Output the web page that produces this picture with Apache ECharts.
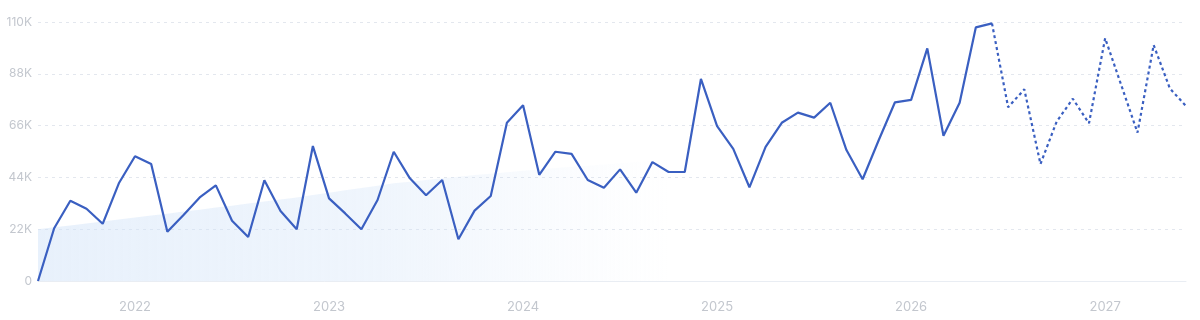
<!DOCTYPE html>
<html>
<head>
<meta charset="utf-8">
<script src="https://cdn.jsdelivr.net/npm/echarts@6/dist/echarts.min.js"></script>
<style>
html, body { margin: 0; padding: 0; background: #fff; }
#chart { width: 1200px; height: 320px; }
</style>
</head>
<body>
<div id="chart"></div>
<script>
// months Jul 2021 .. Jun 2027
var months = [];
for (var y = 2021; y <= 2027; y++) {
    for (var m = 1; m <= 12; m++) {
        if (y == 2021 && m < 7) continue;
        if (y == 2027 && m > 6) continue;
        months.push(y + '-' + (m < 10 ? '0' + m : m));
    }
}

// actual volume (thousands), Jul 2021 .. Jun 2026
var actual = [
    0, 22.4, 34.1, 30.7, 24.3, 41.5, 53.0, 49.7, 20.9, 28.0, 35.5, 40.6,
    25.6, 18.7, 42.8, 29.7, 22.0, 57.3, 35.1, 28.7, 22.0, 34.4, 54.9, 43.6,
    36.4, 42.9, 17.7, 29.9, 36.1, 67.2, 74.6, 45.1, 54.9, 54.0, 42.9, 39.6,
    47.4, 37.5, 50.5, 46.3, 46.3, 85.8, 65.8, 56.1, 39.8, 57.0, 67.2, 71.5,
    69.4, 75.7, 55.6, 43.2, 59.9, 75.9, 76.9, 98.8, 61.7, 75.7, 107.7, 109.4
];

// forecast (thousands), Jun 2026 .. Jun 2027
var forecast = [
    109.4, 73.8, 81.4, 49.7, 67.7, 77.4, 67.0, 103.1, 83.1, 63.0, 100.2, 81.8, 74.3
];

// background trend band (thousands)
var trend = [
    22.0, 22.8, 23.6, 24.4, 25.3, 26.1, 27.0, 27.8, 28.6, 29.5, 30.3, 31.2,
    32.0, 32.9, 33.8, 34.6, 35.5, 36.5, 37.5, 38.5, 39.5, 40.5, 41.5, 42.2,
    42.9, 43.6, 44.3, 45.0, 45.6, 46.2, 46.8, 47.4, 48.0, 48.5, 49.0, 49.5,
    50.0, 50.5, 51.0, 51.4, 51.8, 52.2, 52.6, 53.0, 53.4, 53.8, 54.2, 54.6,
    55.0, 55.4, 55.8, 56.2, 56.6, 57.0, 57.4, 57.8, 58.2, 58.6, 59.0, 59.4,
    59.8, 60.2, 60.6, 61.0, 61.4, 61.8, 62.2, 62.6, 63.0, 63.4, 63.8, 64.2
];

var yTicks = [0, 22000, 44000, 66000, 88000, 110000];

function toK(arr) {
    return arr.map(function (v) { return v == null ? null : Math.round(v * 1000); });
}

var actualData = toK(actual);
var forecastData = [];
for (var i = 0; i < months.length; i++) {
    var k = i - (actual.length - 1);
    forecastData.push(k >= 0 ? forecast[k] * 1000 : null);
}

var chart = echarts.init(document.getElementById('chart'));
var option = {
    animation: false,
    grid: { left: 38, right: 14, top: 22, bottom: 39 },
    xAxis: {
        type: 'category',
        data: months,
        boundaryGap: false,
        axisTick: { show: false },
        axisLine: { lineStyle: { color: '#e9edf3', width: 1 } },
        axisLabel: {
            interval: function (idx, val) { return val.slice(5) == '01'; },
            formatter: function (val) { return val.slice(0, 4); },
            color: '#c3c7ce',
            fontFamily: 'Inter',
            fontSize: 13,
            margin: 20
        },
        splitLine: { show: false }
    },
    yAxis: {
        type: 'value',
        min: yTicks[0],
        max: yTicks[yTicks.length - 1],
        interval: 22000,
        axisLine: { show: false },
        axisTick: { show: false },
        axisLabel: {
            formatter: function (v) { return v == 0 ? '0' : (v / 1000) + 'K'; },
            color: '#c3c7ce',
            fontFamily: 'Inter',
            fontSize: 12,
            margin: 6
        },
        splitLine: { lineStyle: { color: '#e3e7ee', type: [3, 4], width: 1 } }
    },
    series: [
        {
            name: 'trend',
            type: 'line',
            data: toK(trend),
            symbol: 'none',
            silent: true,
            lineStyle: { width: 0, opacity: 0 },
            areaStyle: {
                color: {
                    type: 'linear', x: 0, y: 0, x2: 1, y2: 0,
                    colorStops: [
                        { offset: 0, color: 'rgba(208,226,248,0.7)' },
                        { offset: 0.3, color: 'rgba(208,226,248,0.48)' },
                        { offset: 0.45, color: 'rgba(208,226,248,0.15)' },
                        { offset: 0.55, color: 'rgba(208,226,248,0)' }
                    ]
                }
            },
            z: 1
        },
        {
            name: 'actual',
            type: 'line',
            data: actualData,
            symbol: 'none',
            lineStyle: { color: '#3a5fc1', width: 2.2 },
            z: 3
        },
        {
            name: 'forecast',
            type: 'line',
            data: forecastData,
            symbol: 'none',
            lineStyle: { color: '#3a5fc1', width: 2.2, type: [3, 3] },
            z: 3
        }
    ]
};
chart.setOption(option);
</script>
</body>
</html>
